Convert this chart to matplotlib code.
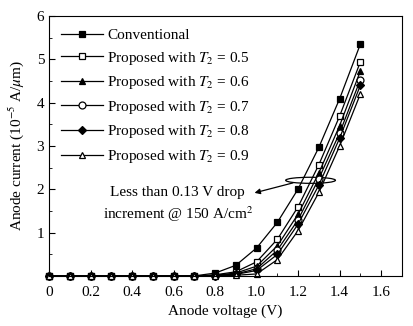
import matplotlib
matplotlib.use("Agg")
import matplotlib.pyplot as plt
from matplotlib.patches import Ellipse
from matplotlib.ticker import MultipleLocator

plt.rcParams['font.family'] = ['Liberation Serif', 'DejaVu Serif']
plt.rcParams['mathtext.fontset'] = 'stix'
plt.rcParams['font.size'] = 11

voltage = [0, 0.1, 0.2, 0.3, 0.4, 0.5, 0.6, 0.7, 0.8, 0.9, 1.0, 1.1, 1.2, 1.3, 1.4, 1.5]
conventional = [0, 0, 0, 0, 0, 0, 0, 0.005, 0.07, 0.25, 0.65, 1.24, 2.01, 2.97, 4.09, 5.35]
t2_05 = [0, 0, 0, 0, 0, 0, 0, 0, 0.03, 0.10, 0.33, 0.85, 1.60, 2.57, 3.69, 4.94]
t2_06 = [0, 0, 0, 0, 0, 0, 0, 0, 0.02, 0.07, 0.23, 0.70, 1.43, 2.38, 3.47, 4.73]
t2_07 = [0, 0, 0, 0, 0, 0, 0, 0, 0.01, 0.05, 0.17, 0.60, 1.30, 2.25, 3.30, 4.53]
t2_08 = [0, 0, 0, 0, 0, 0, 0, 0, 0.01, 0.04, 0.13, 0.50, 1.20, 2.10, 3.18, 4.40]
t2_09 = [0, 0, 0, 0, 0, 0, 0, 0, 0.005, 0.02, 0.05, 0.38, 1.05, 1.93, 3.00, 4.20]

series = [
    ("Conventional", conventional, "s", "black"),
    ("Proposed with $T_2$ = 0.5", t2_05, "s", "white"),
    ("Proposed with $T_2$ = 0.6", t2_06, "^", "black"),
    ("Proposed with $T_2$ = 0.7", t2_07, "o", "white"),
    ("Proposed with $T_2$ = 0.8", t2_08, "D", "black"),
    ("Proposed with $T_2$ = 0.9", t2_09, "^", "white"),
]

fig = plt.figure(figsize=(4.13, 3.26), dpi=100)
ax = fig.add_axes([0.119, 0.153, 0.854, 0.798])

for label, vals, m, fc in series:
    ms = 4.2 if m == "D" else 5
    ax.plot(voltage, vals, color="black", lw=0.9, marker=m, ms=ms,
            mfc=fc, mec="black", mew=0.9, label=label, clip_on=False)

ax.set_xlim(0, 1.7)
ax.set_ylim(0, 6)
ax.set_xticks([0, 0.2, 0.4, 0.6, 0.8, 1.0, 1.2, 1.4, 1.6])
ax.set_xticklabels(["0", "0.2", "0.4", "0.6", "0.8", "1.0", "1.2", "1.4", "1.6"])
ax.set_yticks([1, 2, 3, 4, 5, 6])
ax.xaxis.set_minor_locator(MultipleLocator(0.1))
ax.yaxis.set_minor_locator(MultipleLocator(0.5))
ax.tick_params(which="both", direction="in", top=False, right=False)
ax.tick_params(which="major", length=4)
ax.tick_params(which="minor", length=2)
ax.tick_params(axis="x", pad=7)
ax.set_xlabel("Anode voltage (V)", labelpad=4)
ax.set_ylabel(r"Anode current (10$^{-5}$ A/$\mu$m)", labelpad=8)

ax.legend(loc="upper left", frameon=False, handlelength=2.7, handletextpad=0.3,
          labelspacing=0.5, borderaxespad=0.4, fontsize=11)

ax.add_patch(Ellipse((1.26, 2.21), 0.24, 0.14, fill=False, ec="black", lw=0.9))
ax.text(0.62, 1.64, "Less than 0.13 V drop\nincrement @ 150 A/cm$^2$",
        ha="center", va="center", fontsize=11, linespacing=1.35)
ax.annotate("", xy=(0.99, 1.92), xytext=(1.175, 2.15),
            arrowprops=dict(arrowstyle="-|>", color="black", lw=0.9,
                            shrinkA=0, shrinkB=0, mutation_scale=8))

fig.savefig("out.png", dpi=100)
